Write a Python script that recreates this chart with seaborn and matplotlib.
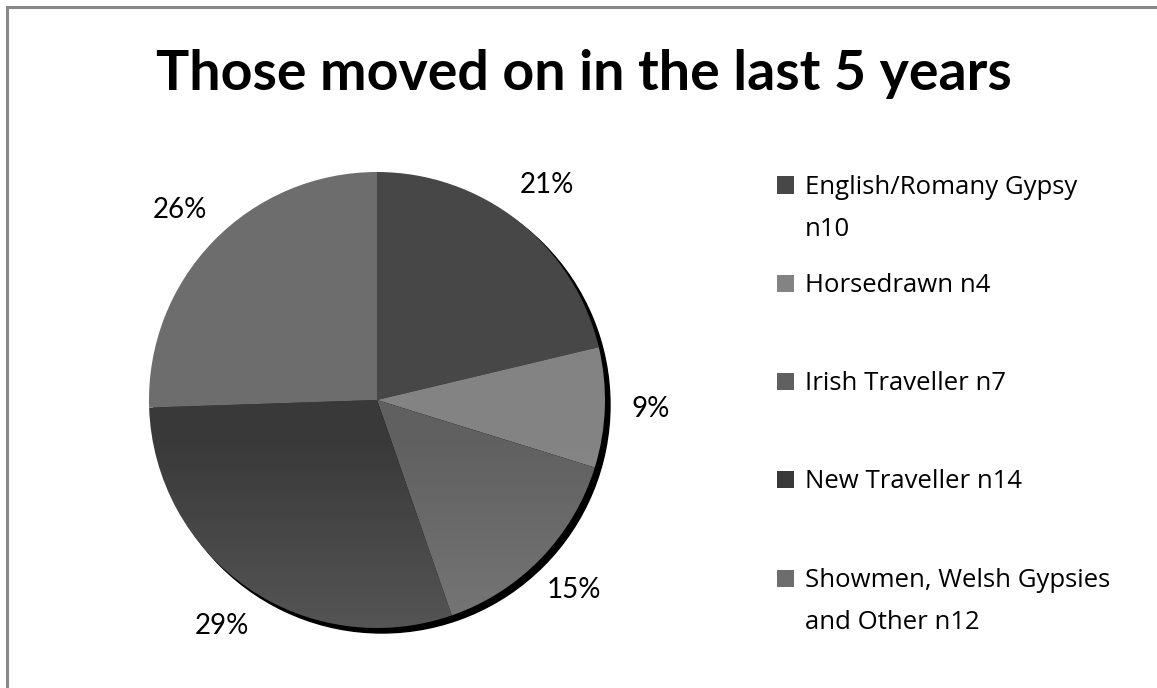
import matplotlib
matplotlib.use("Agg")
import matplotlib.pyplot as plt
import seaborn as sns
import numpy as np
from matplotlib.patches import Rectangle, Circle

# ---- data ----
categories = ["English/Romany Gypsy\nn10", "Horsedrawn n4", "Irish Traveller n7",
              "New Traveller n14", "Showmen, Welsh Gypsies\nand Other n12"]
counts = [10, 4, 7, 14, 12]
pct_labels = ["21%", "9%", "15%", "29%", "26%"]
colors = ["#474747", "#838383", "#606060", "#393939", "#6d6d6d"]
title = "Those moved on in the last 5 years"

sns.set_theme(style="white")
plt.rcParams['font.family'] = ['Lato', 'DejaVu Sans']

W, H = 1157, 688
fig = plt.figure(figsize=(W / 100, H / 100), dpi=100)
fig.patch.set_facecolor("white")

# outer frame
fig.patches.append(Rectangle((6.5 / W, -0.1), 1.2, 1 - 7.5 / H + 0.1,
                             transform=fig.transFigure, fill=False,
                             ec="#888888", lw=2.2))

# title
fig.text(583.5 / W, 1 - 90 / H, title, ha="center", va="baseline",
         fontsize=40, fontweight="bold", color="black")

# pie
cx, cy, r = 377, 400, 228
ax = fig.add_axes([(cx - r) / W, (H - cy - r) / H, 2 * r / W, 2 * r / H])
shadow = Circle((5 / r, -5 / r), 1.0, color="black", zorder=0, clip_on=False)
ax.add_patch(shadow)
wedges, texts = ax.pie(counts, labels=pct_labels, colors=colors, startangle=90,
                       counterclock=False, labeldistance=1.2,
                       wedgeprops=dict(linewidth=0, zorder=1),
                       textprops=dict(fontsize=20, color="black"))
for t in texts:
    t.set_ha("center")
    t.set_va("center")

# subtle lighter shading toward the bottom of the pie
yy = np.linspace(-1, 1, 256)[:, None]
alpha = np.clip((-0.15 - yy) / 0.85, 0, 1) * 0.14
img = np.ones((256, 1, 4))
img[..., 3] = alpha
im = ax.imshow(img, extent=(-1, 1, -1, 1), origin="lower", aspect="auto", zorder=2)
clip = Circle((0, 0), 1.0, transform=ax.transData)
im.set_clip_path(clip)

ax.set_xlim(-1, 1)
ax.set_ylim(-1, 1)
ax.set_aspect("equal")
ax.axis("off")

# legend drawn manually
y0, dy, line_h = 185, 98.3, 42
for i, (lab, col) in enumerate(zip(categories, colors)):
    yc = y0 + i * dy
    fig.patches.append(Rectangle((777 / W, 1 - (yc + 8.5) / H), 17 / W, 17 / H,
                                 transform=fig.transFigure, fc=col, ec="none"))
    for k, line in enumerate(lab.split("\n")):
        fig.text(805 / W, 1 - (yc + 8.5 + k * line_h) / H, line, ha="left",
                 va="baseline", fontsize=18.5, color="black",
                 family=["Open Sans", "DejaVu Sans"])

fig.savefig("out.png", dpi=100, facecolor="white")
